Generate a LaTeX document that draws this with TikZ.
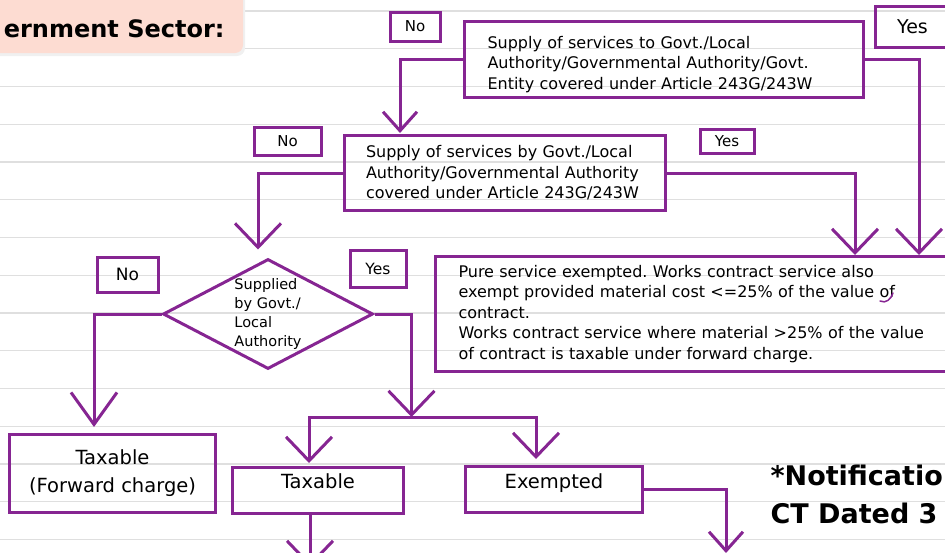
\documentclass[tikz,border=0pt]{standalone}
\usepackage{fontspec}
\setmainfont{DejaVu Sans}
\usetikzlibrary{arrows.meta,shapes.geometric,calc}
\definecolor{plum}{RGB}{134,37,146}
\definecolor{blush}{RGB}{253,220,210}
\frenchspacing
\tikzset{
  rule/.style={gray!25, line width=1.3},
  flow/.style={plum, line width=3},
  arr/.style={flow, -{Straight Barb[length=24pt,width=46pt]}},
  arrs/.style={flow, -{Straight Barb[length=19pt,width=34pt]}},
  box/.style={draw=plum, line width=3, inner sep=0, anchor=north west, align=left, font=\fontsize{16}{20.5}\selectfont},
  tag/.style={draw=plum, line width=3, inner sep=0, font=\fontsize{15}{18}\selectfont},
  result/.style={draw=plum, line width=3, inner sep=0, anchor=north west, align=center, font=\fontsize{19.5}{28}\selectfont},
}
\begin{document}
\begin{tikzpicture}[x=1pt, y=-1pt]
  \useasboundingbox (0,0) rectangle (945,552);
  \clip (0,0) rectangle (945,552);
  % ruled paper
  \foreach \k in {0,...,14}
    \draw[rule] (0,{11+37.75*\k}) -- (945,{11+37.75*\k});
  % heading
  \fill[black!6, rounded corners=8] (-10,-8) rectangle (245,56);
  \fill[blush, rounded corners=8] (-12,-12) rectangle (243,53);
  \node[anchor=base east, font=\fontsize{24}{28}\selectfont\bfseries] (head) at (228,37) {ernment Sector:};
  % questions
  \node[box, minimum width=399, minimum height=76, text width=353] (boxA) at (463,20) {\rule{0pt}{22pt}Supply of services to Govt./Local\\Authority/Governmental Authority/Govt.\\Entity covered under Article 243G/243W};
  \node[box, minimum width=321, minimum height=75, text width=278] (boxB) at (343,134) {Supply of services by Govt./Local\\Authority/Governmental Authority\\covered under Article 243G/243W};
  \node[box, minimum width=521, minimum height=115, text width=475] (boxD) at (434,255) {Pure service exempted. Works contract service also\\exempt provided material cost <=25\% of the value of\\contract.\\Works contract service where material >25\% of the value\\of contract is taxable under forward charge.};
  \node[diamond, draw=plum, line width=3, aspect=2, minimum width=210, minimum height=110, inner sep=0, align=left, font=\fontsize{14.5}{18.7}\selectfont] (dia) at (268,314) {Supplied\\by Govt./\\Local\\Authority};
  % yes / no tags
  \node[tag, minimum width=50, minimum height=29] (noA) at (415,26.5) {No};
  \node[tag, minimum width=75, minimum height=41, font=\fontsize{19}{22}\selectfont] (yesA) at (912.5,26.5) {Yes};
  \node[tag, minimum width=67, minimum height=28] (noB) at (287.5,141) {No};
  \node[tag, minimum width=54, minimum height=24] (yesB) at (727,141) {Yes};
  \node[tag, minimum width=61, minimum height=35, font=\fontsize{17}{20}\selectfont] (noD) at (127.5,274.5) {No};
  \node[tag, minimum width=56, minimum height=37, font=\fontsize{15.5}{18}\selectfont] (yesD) at (378,268.5) {Yes};
  % outcomes
  \node[result, minimum width=206, minimum height=78] (fwd) at (8,433) {Taxable\\(Forward charge)};
  \node[result, minimum width=171, minimum height=46, text height=15, text depth=19] (tax) at (231,466) {Taxable};
  \node[result, minimum width=177, minimum height=46, text height=15, text depth=17] (exe) at (464,465) {Exempted};
  \node[anchor=base west, font=\fontsize{27}{38}\selectfont\bfseries] (note1) at (767,485) {*Notificatio};
  \node[anchor=base west, font=\fontsize{27}{38}\selectfont\bfseries] (note2) at (767,523) {CT Dated 3};
  % connectors
  \coordinate (split) at ($(dia.east)+(37,103)$);
  \draw[arrs] (boxA.west) -| ($(boxB.north west)+(57,-1)$);
  \draw[arr] (boxA.east) -| ($(boxD.north west)+(485,0)$);
  \draw[arr] (boxB.west) -| ($(dia.north)+(-10,-8)$);
  \draw[arr] (boxB.east) -| ($(boxD.north west)+(421,0)$);
  \draw[flow, -{Straight Barb[length=32pt,width=46pt]}] (dia.west) -| ($(fwd.north west)+(86,-6)$);
  \draw[arr] (dia.east) -| (split);
  \draw[arr] (split) -| ($(tax.north west)+(78,-3)$);
  \draw[arr] (split) -| ($(exe.north west)+(72,-6)$);
  \draw[arr] ($(tax.south west)+(79,0)$) -- ++(0,52);
  \draw[arrs] (exe.east) -| ($(exe.south east)+(82,39)$);
  \draw[plum, line width=1.5, line cap=round] (880,301) .. controls (886,304) and (891,299) .. (893,293);
\end{tikzpicture}
\end{document}
